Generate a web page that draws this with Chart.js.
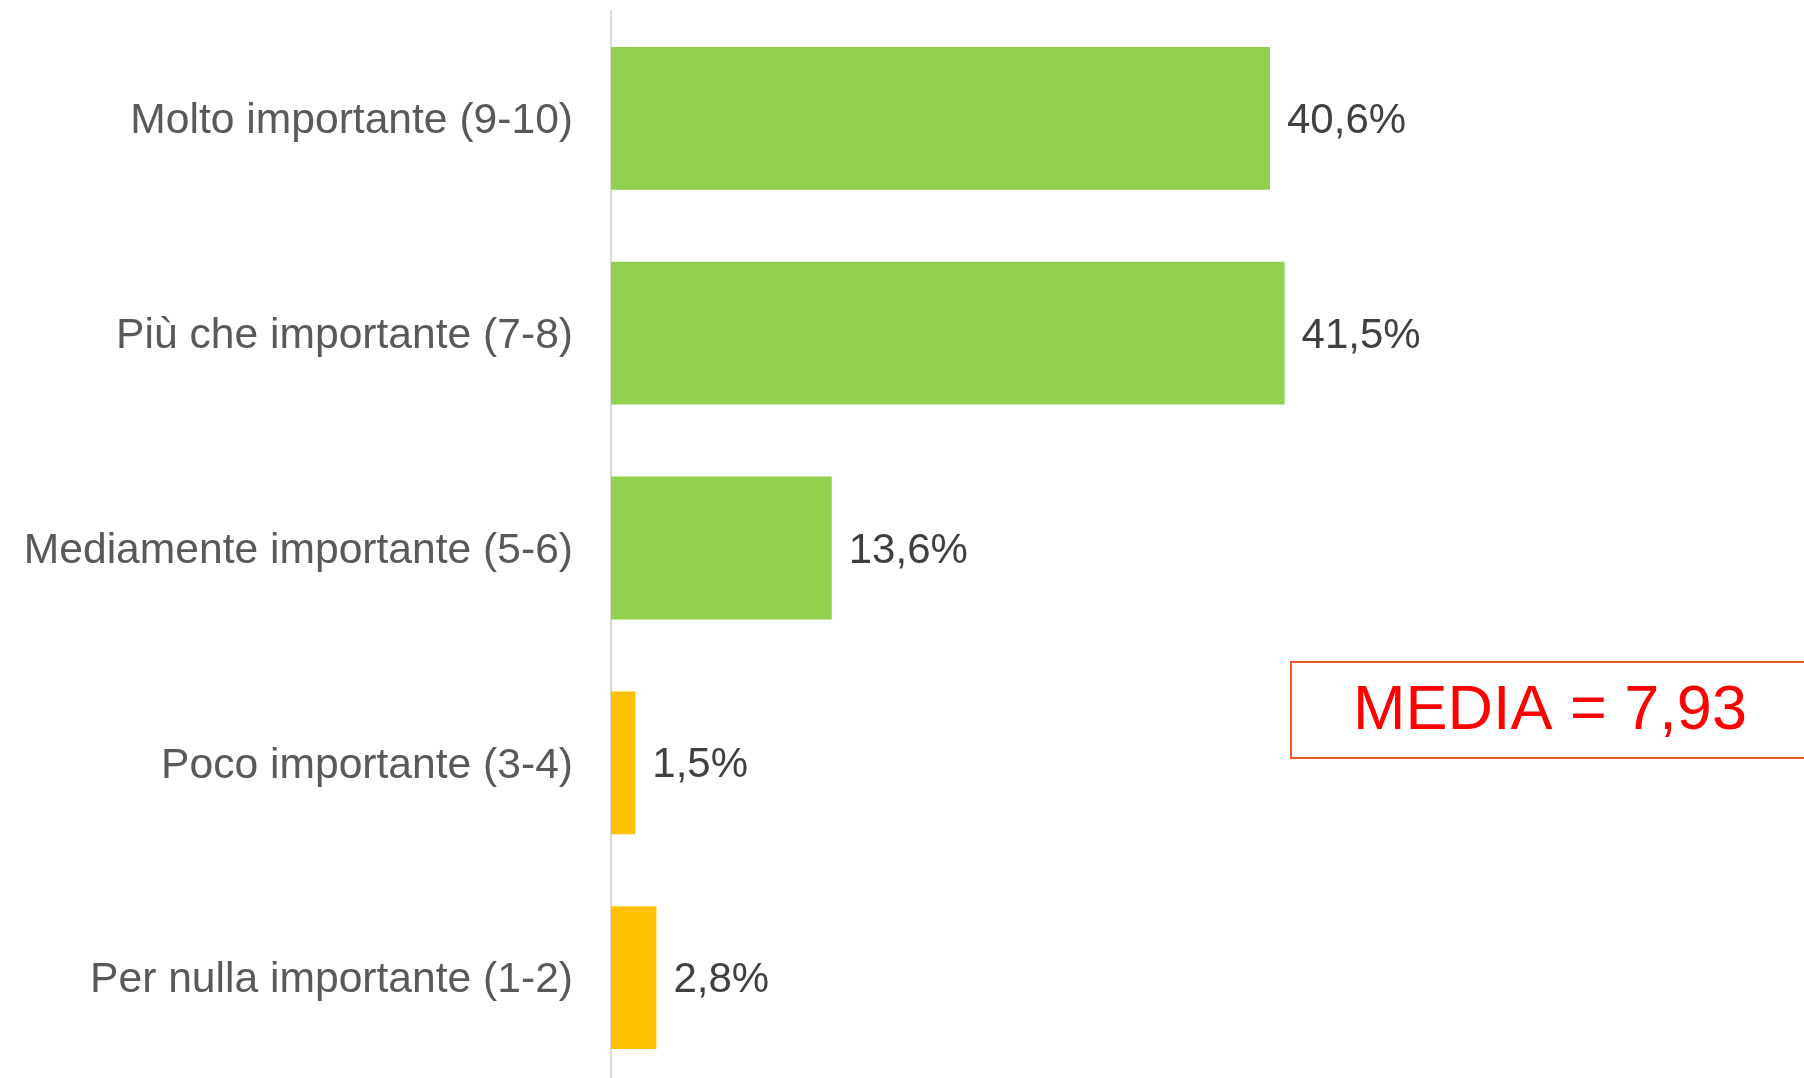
<!DOCTYPE html>
<html>
<head>
<meta charset="utf-8">
<script src="https://cdn.jsdelivr.net/npm/chart.js@4/dist/chart.umd.min.js"></script>
<style>
  html, body { margin: 0; padding: 0; background: #ffffff; overflow: hidden; }
  #wrap { width: 1804px; height: 1085px; }
</style>
</head>
<body>
<div id="wrap"><canvas id="c" width="1804" height="1085"></canvas></div>
<script>
const categories = [
  'Molto importante (9-10)',
  'Più che importante (7-8)',
  'Mediamente importante (5-6)',
  'Poco importante (3-4)',
  'Per nulla importante (1-2)'
];
const values = [40.6, 41.5, 13.6, 1.5, 2.8];
const valueLabels = ['40,6%', '41,5%', '13,6%', '1,5%', '2,8%'];
const barColors = ['#92d050', '#92d050', '#92d050', '#ffc000', '#ffc000'];
const mediaText = 'MEDIA = 7,93';

const FONT = "'Liberation Sans', Arial, sans-serif";

const valueLabelPlugin = {
  id: 'valueLabels',
  afterDatasetsDraw(chart) {
    const ctx = chart.ctx;
    const meta = chart.getDatasetMeta(0);
    ctx.save();
    ctx.font = '42px ' + FONT;
    ctx.fillStyle = '#404040';
    ctx.textAlign = 'left';
    ctx.textBaseline = 'middle';
    meta.data.forEach((bar, i) => {
      ctx.fillText(valueLabels[i], bar.x + 17, bar.y + 3);
    });
    ctx.restore();
  }
};

const mediaBoxPlugin = {
  id: 'mediaBox',
  afterDraw(chart) {
    const ctx = chart.ctx;
    ctx.save();
    ctx.strokeStyle = '#f05a28';
    ctx.lineWidth = 2;
    ctx.strokeRect(1291, 662, 540, 96);
    ctx.font = '63px ' + FONT;
    ctx.fillStyle = '#ff0000';
    ctx.textAlign = 'left';
    ctx.textBaseline = 'middle';
    ctx.fillText(mediaText, 1353, 712);
    ctx.restore();
  }
};

new Chart(document.getElementById('c'), {
  type: 'bar',
  data: {
    labels: categories,
    datasets: [{
      data: values,
      backgroundColor: barColors,
      borderWidth: 0,
      categoryPercentage: 1.0,
      barPercentage: 0.665
    }]
  },
  options: {
    indexAxis: 'y',
    responsive: false,
    animation: false,
    layout: { padding: { top: 11, left: 0, right: 0, bottom: 0 } },
    plugins: {
      legend: { display: false },
      tooltip: { enabled: false },
      title: { display: false }
    },
    scales: {
      x: {
        display: false,
        min: 0,
        max: 73.5,
        grid: { display: false }
      },
      y: {
        grid: { display: false, drawTicks: false },
        border: { display: true, color: '#d9d9d9', width: 2 },
        ticks: {
          color: '#595959',
          font: { family: FONT, size: 42.6 },
          padding: 38,
          labelOffset: 3
        },
        afterFit(scale) {
          scale.width = 611;
          scale.paddingTop = 0;
          scale.paddingBottom = 0;
        }
      }
    }
  },
  plugins: [valueLabelPlugin, mediaBoxPlugin]
});
</script>
</body>
</html>
